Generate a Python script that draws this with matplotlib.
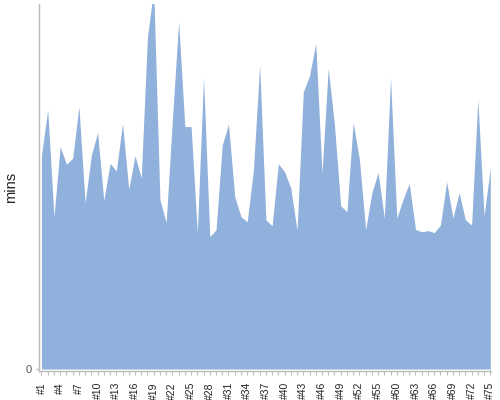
import matplotlib
matplotlib.use("Agg")
import matplotlib.pyplot as plt
import numpy as np

# categories: #1..#55 and #58..#75 (#56, #57 absent)
labels = [f"#{i}" for i in range(1, 56)] + [f"#{i}" for i in range(58, 76)]
minutes = [
    53.5, 64.8, 38.1, 55.6, 51.2, 52.7, 65.6, 41.6, 53.5, 59.1,
    42.1, 51.4, 49.5, 61.4, 44.9, 53.3, 47.8, 83.0, 95.0, 42.4,
    36.6, 62.3, 86.8, 60.6, 60.6, 34.1, 72.9, 33.1, 34.8, 56.0,
    61.2, 43.1, 38.1, 36.8, 49.8, 76.0, 37.3, 35.8, 51.3, 49.3,
    45.2, 34.6, 69.3, 73.3, 81.4, 48.9, 75.2, 61.0, 40.8, 39.3,
    61.6, 52.4, 34.8, 44.1, 49.1,
    37.7, 72.7, 37.7, 42.4, 46.4, 34.9, 34.3, 34.6, 34.1, 36.0,
    46.8, 37.7, 44.1, 37.3, 36.0, 67.4, 38.3, 50.2,
]
y_top = 91.25

x = np.arange(len(labels))

fig = plt.figure(figsize=(5, 4), dpi=100)
ax = fig.add_axes([0.077, 0.0725, 0.9046, 0.9175])
ax.fill_between(x, 0, minutes, color="#8fb1db", linewidth=0)

ax.set_xlim(-0.48, len(labels) - 1 + 0.08)
ax.set_ylim(-0.5, y_top)

for side in ["top", "right"]:
    ax.spines[side].set_visible(False)
for side in ["left", "bottom"]:
    ax.spines[side].set_color("#bbbbbb")
    ax.spines[side].set_linewidth(1)

ax.set_yticks([0])
ax.set_yticklabels(["0"], fontsize=8, color="#555555", family="Liberation Sans")
ax.tick_params(axis="y", length=2, width=1, color="#bbbbbb", pad=3)

ax.set_xticks(x, minor=True)
ax.set_xticks(x[::3])
ax.set_xticklabels(labels[::3], rotation=90, fontsize=7.5, color="#222222",
                   family="Liberation Sans")
ax.tick_params(axis="x", which="both", length=3, width=0.8, color="#bbbbbb", pad=5)

ax.set_ylabel("mins", fontsize=10.5, color="#222222", family="Liberation Sans")
ax.yaxis.set_label_coords(-0.045, 0.5)

fig.savefig("out.png", dpi=100)
